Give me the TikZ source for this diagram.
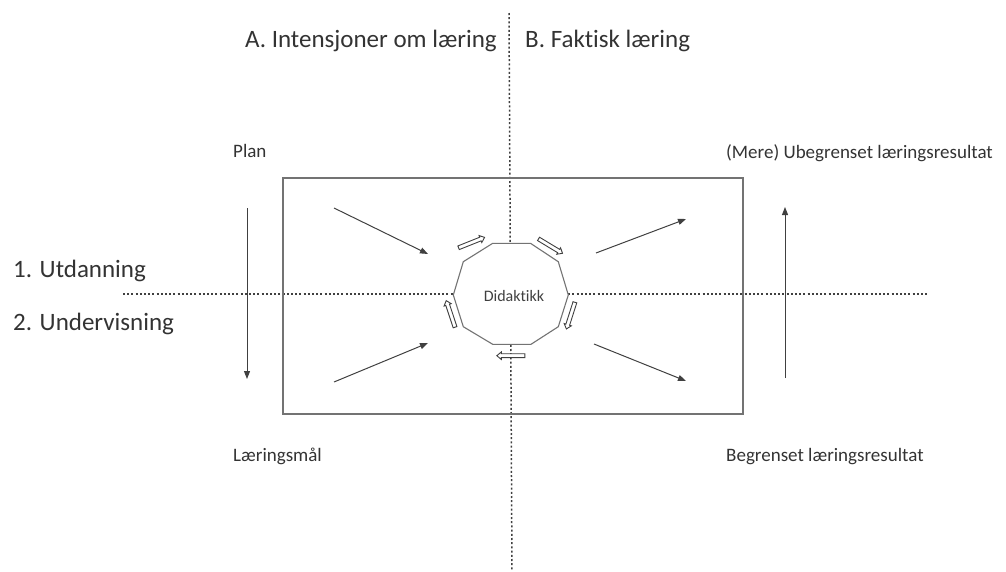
\documentclass[tikz,border=0pt]{standalone}
\usepackage{fontspec}
\setmainfont{Carlito}[Ligatures=NoCommon]
\usetikzlibrary{arrows.meta,shapes.arrows}
\begin{document}
\begin{tikzpicture}[x=1pt,y=-1pt,
  bigtxt/.style={anchor=base west,inner sep=0pt,text=black!80,font=\fontsize{25}{30}\selectfont},
  smalltxt/.style={anchor=base west,inner sep=0pt,text=black!80,font=\fontsize{19}{23}\selectfont},
  dotline/.style={draw=black!75,line width=1.5pt,dash pattern=on 2pt off 2.2pt},
  frame/.style={draw=black!55,line width=1.3pt},
  flow/.style={draw=black!75,line width=1pt,-{Triangle[length=8pt,width=6pt]}},
  cyc/.style={single arrow,draw=black!75,fill=white,line width=0.9pt,minimum height=28pt,
    inner sep=1.5pt,single arrow head extend=1.8pt,single arrow tip angle=80,anchor=center}
]
\useasboundingbox (0,0) rectangle (1006,571);
% dotted axes
\coordinate (vt) at (509,13);
\coordinate (vb) at (512,571);
\coordinate (hl) at (123,294);
\coordinate (hr) at (927,294);
\draw[dotline] (vt) -- (vb);
\draw[dotline] (hl) -- (hr);
% frame
\draw[frame] (283,178) rectangle (743,414);
% decagon
\draw[frame,fill=white,line width=1.1pt]
  (492.7,243.3) -- (530.5,243.3) -- (558.3,261.7) -- (568.3,295) -- (558.3,326.7)
  -- (531,344.3) -- (492.7,344.3) -- (463.3,326.7) -- (453.3,295) -- (463.3,261.7) -- cycle;
\node[anchor=base,inner sep=0pt,text=black!75,font=\fontsize{16}{19}\selectfont] (did) at (514,301.5) {Didaktikk};
% cycle arrows
\node[cyc,rotate=21.8] (c1) at (470.5,243) {};
\node[cyc,rotate=-31] (c2) at (549.5,245.5) {};
\node[cyc,rotate=-107.7] (c3) at (571,314.5) {};
\node[cyc,rotate=180] (c4) at (512,355.7) {};
\node[cyc,rotate=108.4] (c5) at (451,315) {};
% flow arrows
\coordinate (a1s) at (334,208); \coordinate (a1e) at (428,254);
\coordinate (a2s) at (334,382); \coordinate (a2e) at (428,343);
\coordinate (a3s) at (596,253); \coordinate (a3e) at (686,219);
\coordinate (a4s) at (594,344); \coordinate (a4e) at (686,381);
\coordinate (ls) at (247,208); \coordinate (le) at (247,379);
\coordinate (rs) at (785,378); \coordinate (re) at (785,207);
\draw[flow] (a1s) -- (a1e);
\draw[flow] (a2s) -- (a2e);
\draw[flow] (a3s) -- (a3e);
\draw[flow] (a4s) -- (a4e);
\draw[flow] (ls) -- (le);
\draw[flow] (rs) -- (re);
% labels
\node[bigtxt] (ta) at (245,47) {A. Intensjoner om læring};
\node[bigtxt] (tb) at (525,47) {B. Faktisk læring};
\node[bigtxt] (t1) at (13,277) {1. Utdanning};
\node[bigtxt] (t2) at (13,330) {2. Undervisning};
\node[smalltxt] (plan) at (233,157) {Plan};
\node[smalltxt] (mal) at (233,461) {Læringsmål};
\node[smalltxt] (ubeg) at (726,158) {(Mere) Ubegrenset læringsresultat};
\node[smalltxt] (beg) at (726,461) {Begrenset læringsresultat};
\end{tikzpicture}
\end{document}
